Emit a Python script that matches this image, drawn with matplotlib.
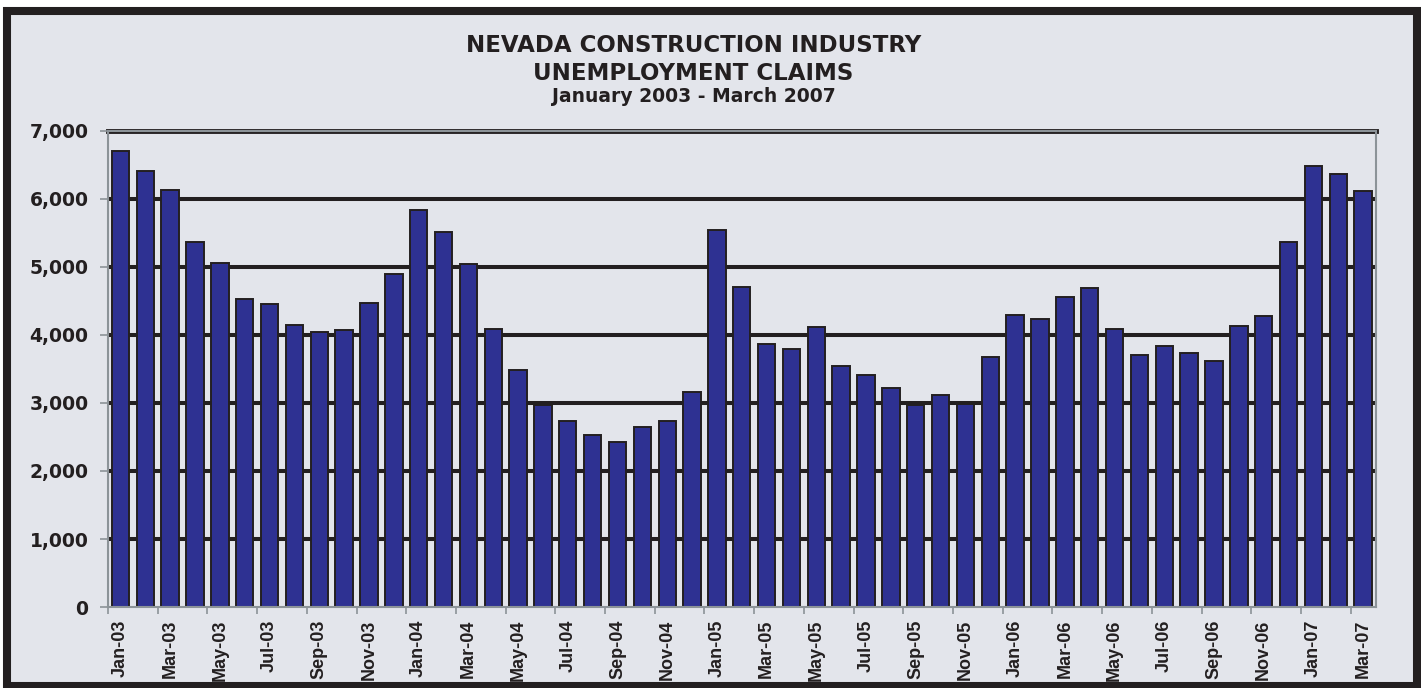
import matplotlib.pyplot as plt
from matplotlib.patches import Rectangle
import numpy as np

# month labels, Jan-03 .. Mar-07
months = ["Jan-03", "Feb-03", "Mar-03", "Apr-03", "May-03", "Jun-03",
          "Jul-03", "Aug-03", "Sep-03", "Oct-03", "Nov-03", "Dec-03",
          "Jan-04", "Feb-04", "Mar-04", "Apr-04", "May-04", "Jun-04",
          "Jul-04", "Aug-04", "Sep-04", "Oct-04", "Nov-04", "Dec-04",
          "Jan-05", "Feb-05", "Mar-05", "Apr-05", "May-05", "Jun-05",
          "Jul-05", "Aug-05", "Sep-05", "Oct-05", "Nov-05", "Dec-05",
          "Jan-06", "Feb-06", "Mar-06", "Apr-06", "May-06", "Jun-06",
          "Jul-06", "Aug-06", "Sep-06", "Oct-06", "Nov-06", "Dec-06",
          "Jan-07", "Feb-07", "Mar-07"]

# unemployment claims per month
claims_2003 = [6700, 6410, 6130, 5370, 5060, 4530, 4450, 4140, 4050, 4080, 4470, 4900]
claims_2004 = [5840, 5510, 5050, 4090, 3480, 2975, 2740, 2525, 2425, 2650, 2740, 3160]
claims_2005 = [5540, 4705, 3870, 3790, 4120, 3550, 3410, 3220, 2965, 3120, 2980, 3680]
claims_2006 = [4290, 4230, 4560, 4690, 4090, 3700, 3840, 3740, 3610, 4130, 4285, 5370]
claims_2007 = [6485, 6370, 6120]
claims = claims_2003 + claims_2004 + claims_2005 + claims_2006 + claims_2007

y_ticks = [0, 1000, 2000, 3000, 4000, 5000, 6000, 7000]

dark = "#231f20"
grey = "#8c9398"
bar_color = "#2e3192"

fig = plt.figure(figsize=(14.21, 6.88), dpi=100)
fig.patch.set_facecolor("white")

# outer black frame with light grey fill
frame = Rectangle((0.0049, 0.0029), 0.9923, 0.981, transform=fig.transFigure,
                  facecolor="#e3e5eb", edgecolor=dark, linewidth=5.8, zorder=-1)
fig.patches.append(frame)

ax = fig.add_axes([0.076, 0.1177, 0.892, 0.692])
ax.set_facecolor("none")

x = np.arange(len(claims))
ax.bar(x, claims, width=0.7, color=bar_color, edgecolor=dark, linewidth=1.4, zorder=3)

ax.set_xlim(-0.5, len(claims) - 0.5)
ax.set_ylim(0, 7000)

# thick black gridlines behind the bars
for v in y_ticks[1:-1]:
    ax.axhline(v, color=dark, linewidth=2.9, zorder=1)
ax.axhline(7000, color=dark, linewidth=3.5, zorder=1, clip_on=False)

for side in ["left", "right", "bottom", "top"]:
    ax.spines[side].set_color(grey)
    ax.spines[side].set_linewidth(1.5)
    ax.spines[side].set_zorder(4)

# y axis
ax.set_yticks(y_ticks)
ax.set_yticklabels([f"{v:,}" for v in y_ticks], fontfamily="DejaVu Sans",
                   fontweight="bold", fontsize=13.5, color=dark)
ax.tick_params(axis="y", length=6, width=1.2, color=grey, pad=8)

# x axis: ticks at category boundaries, labels on every other month
ax.set_xticks(np.arange(-0.5, len(claims), 2))
ax.set_xticklabels([])
ax.tick_params(axis="x", which="major", length=5, width=1.2, color=grey)
ax.set_xticks(x[::2], minor=True)
ax.set_xticklabels(months[::2], minor=True, rotation=90, fontfamily="Liberation Sans",
                   fontweight="bold", fontsize=13, color=dark)
ax.tick_params(axis="x", which="minor", length=0, pad=9)

fig.text(0.488, 1 - 52 / 688, "NEVADA CONSTRUCTION INDUSTRY", ha="center", va="baseline",
         fontsize=16.5, fontweight="bold", family="DejaVu Sans", color=dark)
fig.text(0.488, 1 - 80 / 688, "UNEMPLOYMENT CLAIMS", ha="center", va="baseline",
         fontsize=16.5, fontweight="bold", family="DejaVu Sans", color=dark)
fig.text(0.488, 1 - 102 / 688, "January 2003 - March 2007", ha="center", va="baseline",
         fontsize=13.5, fontweight="bold", family="DejaVu Sans", color=dark)

plt.savefig("out.png", dpi=100)
plt.close()
